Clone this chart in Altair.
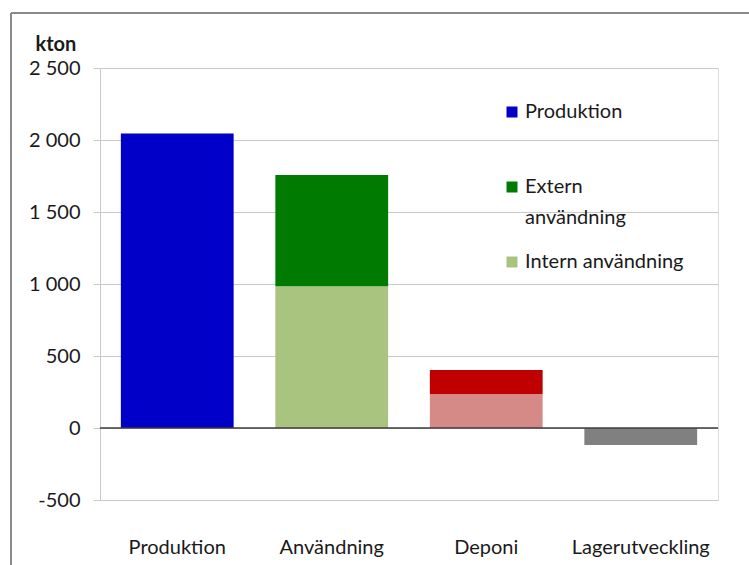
import altair as alt
import pandas as pd

# --- data ---
categories = ["Produktion", "Användning", "Användning", "Deponi", "Deponi", "Lagerutveckling"]
series = ["Produktion", "Intern användning", "Extern användning",
          "Deponi, intern", "Deponi, extern", "Lagerutveckling"]
values = [2045, 985, 772, 236, 167, -118]
stack_order = [0, 0, 1, 0, 1, 0]

category_order = ["Produktion", "Användning", "Deponi", "Lagerutveckling"]
series_colors = ["#0000C8", "#A9C47F", "#007A00", "#D68A88", "#C00000", "#808080"]
y_ticks = [-500, 0, 500, 1000, 1500, 2000, 2500]

legend_labels = ["Produktion", "Extern", "användning", "Intern användning"]

FONT = "Lato"
FS = 20
GRID = "#C8C8C8"
TXT = "#1a1a1a"

df = pd.DataFrame({"kategori": categories, "serie": series,
                   "kton": values, "ordning": stack_order})
one = pd.DataFrame({"k": [0]})

color_scale = alt.Scale(domain=series, range=series_colors)

bars = alt.Chart(df).mark_bar(strokeWidth=0).encode(
    x=alt.X("kategori:N", sort=category_order,
            scale=alt.Scale(paddingInner=0.27, paddingOuter=0.135),
            axis=alt.Axis(title=None, labelAngle=0, domain=False, ticks=False,
                          tickSize=0, labelPadding=53, labelBaseline="alphabetic",
                          labelFont=FONT, labelFontSize=FS, labelColor=TXT,
                          grid=False)),
    y=alt.Y("kton:Q", stack="zero",
            scale=alt.Scale(domain=[-500, 2500], nice=False, zero=False),
            axis=alt.Axis(values=y_ticks, title="kton", titleAngle=0,
                          titleAlign="left", titleBaseline="alphabetic",
                          titleX=-65, titleY=-18, titleFont=FONT,
                          titleFontSize=FS, titleFontWeight="bold",
                          titleColor=TXT,
                          labelExpr="replace(replace(format(datum.value, ','), ',', ' '), '\u2212', '-')",
                          labelFont=FONT, labelFontSize=FS, labelColor=TXT,
                          labelPadding=13, tickSize=7, tickColor=GRID,
                          domainColor=GRID, gridColor=GRID)),
    color=alt.Color("serie:N", scale=color_scale, legend=None),
    order=alt.Order("ordning:Q"),
)

zero_line = alt.Chart(one).mark_rule(color="#3c3c3c", strokeWidth=1.5).encode(
    y=alt.Y(datum=0)
)

# manual legend (only the three series shown in the reference)
leg_sq_x = 412
leg_items = []
sq_specs = [(series_colors[0], 44), (series_colors[2], 119), (series_colors[1], 194)]
for col, yy in sq_specs:
    leg_items.append(
        alt.Chart(one).mark_square(size=121, color=col, opacity=1).encode(
            x=alt.value(leg_sq_x), y=alt.value(yy))
    )
txt_specs = [(legend_labels[0], 44), (legend_labels[1], 119),
             (legend_labels[2], 150), (legend_labels[3], 194)]
for lab, yy in txt_specs:
    leg_items.append(
        alt.Chart(pd.DataFrame({"label": [lab]})).mark_text(
            align="left", baseline="middle", font=FONT,
            fontSize=FS, color=TXT).encode(
            text="label:N", x=alt.value(425), y=alt.value(yy))
    )

# outer frame of the figure
frame_top = alt.Chart(one).mark_rule(color="#8a8a8a", strokeWidth=2).encode(
    x=alt.value(-89), x2=alt.value(660), y=alt.value(-55))
frame_left = alt.Chart(one).mark_rule(color="#8a8a8a", strokeWidth=2).encode(
    x=alt.value(-89), y=alt.value(-55), y2=alt.value(510))

chart = alt.layer(bars, zero_line, *leg_items, frame_top, frame_left).properties(
    width=618, height=432,
    autosize=alt.AutoSizeParams(type="none"),
    padding={"left": 100, "top": 68, "right": 31, "bottom": 65},
).configure_view(stroke=GRID, strokeWidth=1).configure(background="white")

chart.save("out.html", embed_options={"renderer": "svg", "actions": False})
